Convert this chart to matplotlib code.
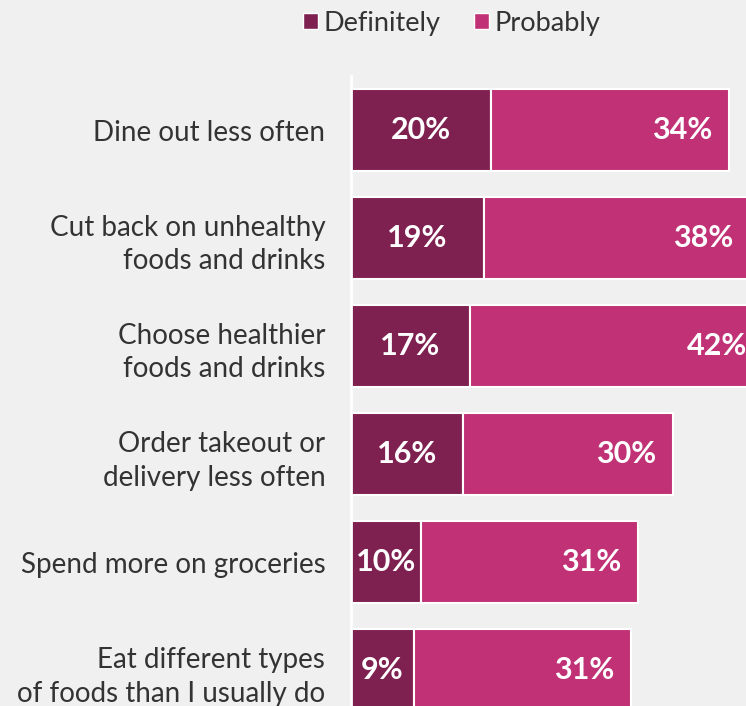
import matplotlib
matplotlib.use("Agg")
import matplotlib.pyplot as plt
from matplotlib.patches import Patch

plt.rcParams['font.family'] = ['Lato', 'DejaVu Sans']

categories = [
    "Dine out less often",
    "Cut back on unhealthy\nfoods and drinks",
    "Choose healthier\nfoods and drinks",
    "Order takeout or\ndelivery less often",
    "Spend more on groceries",
    "Eat different types\nof foods than I usually do",
]
definitely = [20, 19, 17, 16, 10, 9]
probably = [34, 38, 42, 30, 31, 31]

DEF_COLOR = "#7f2150"
PROB_COLOR = "#c03275"
BG = "#f0f0f0"

W, H = 746, 706
fig = plt.figure(figsize=(W / 100, H / 100), dpi=100, facecolor=BG)
# axes in pixel terms: left edge at x=351, top at y=76, runs to the bottom/right edge
ax = fig.add_axes([351 / W, 0, 1 - 351 / W, 1 - 76 / H], facecolor=BG)

ypos = list(range(len(categories)))
ax.barh(ypos, definitely, height=0.76, color=DEF_COLOR, edgecolor="white", linewidth=1.5)
ax.barh(ypos, probably, left=definitely, height=0.76, color=PROB_COLOR,
        edgecolor="white", linewidth=1.5)

for y, d, p in zip(ypos, definitely, probably):
    ax.text(d / 2, y, f"{d}%", ha="center", va="center", color="white",
            fontsize=22, fontweight="bold")
    ax.text(d + p - 2.4, y, f"{p}%", ha="right", va="center", color="white",
            fontsize=22, fontweight="bold", clip_on=False)

ax.set_xlim(0, (W - 351) / 7.0)
ax.set_ylim(5.333, -0.5)
ax.set_xticks([])
ax.set_yticks(ypos)
ax.set_yticklabels(categories, fontsize=20, color="#333333", linespacing=1.38)
ax.tick_params(axis="y", length=0, pad=18.5)

for side in ["top", "right", "bottom"]:
    ax.spines[side].set_visible(False)
ax.spines["left"].set_color("white")
ax.spines["left"].set_linewidth(2)

handles = [Patch(facecolor=DEF_COLOR, edgecolor="white", label="Definitely"),
           Patch(facecolor=PROB_COLOR, edgecolor="white", label="Probably")]
fig.legend(handles=handles, loc="center", bbox_to_anchor=(452 / W, 1 - 23 / H),
           ncol=2, frameon=False, fontsize=19.5, handlelength=0.55, handleheight=0.55,
           handletextpad=0.2, columnspacing=1.25, labelcolor="#333333")

fig.savefig("out.png", dpi=100, facecolor=BG)
